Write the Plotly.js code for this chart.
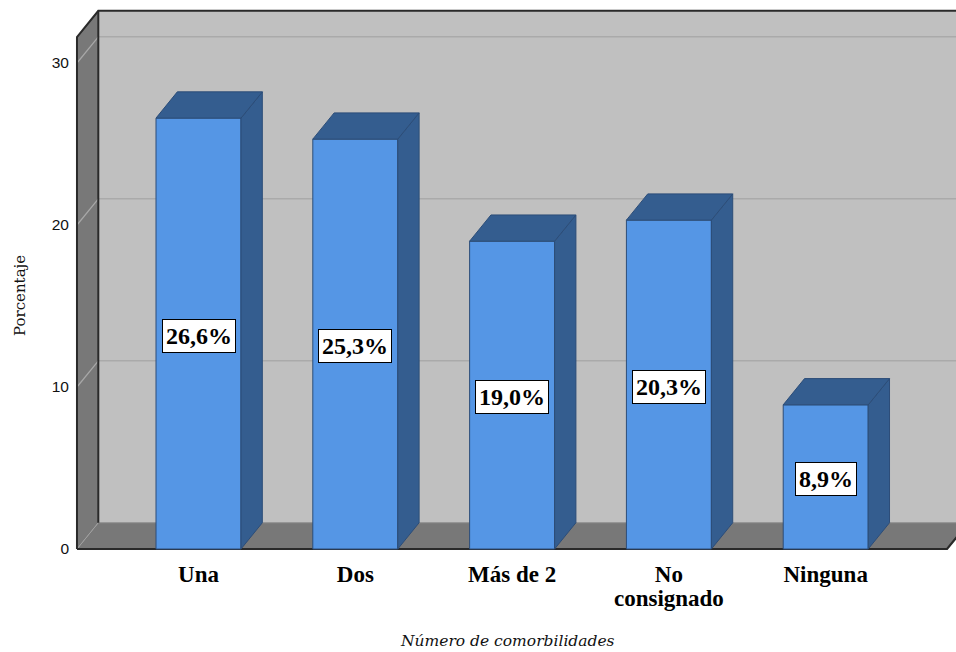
<!DOCTYPE html>
<html>
<head>
<meta charset="utf-8">
<script src="https://cdn.plot.ly/plotly-3.0.1.min.js"></script>
<style>
  html, body { margin: 0; padding: 0; background: #ffffff; }
  #chart { width: 956px; height: 652px; }
</style>
</head>
<body>
<div id="chart"></div>
<script>
// Comorbidity counts, percentage of patients
const categories = ['Una', 'Dos', 'Más de 2', 'No<br>consignado', 'Ninguna'];
const percentages = [26.6, 25.3, 19.0, 20.3, 8.9];
const yTickValues = [0, 10, 20, 30];
const yTickLabels = ['0', '10', '20', '30'];
const xTitle = 'Número de comorbilidades';
const yTitle = 'Porcentaje';

// Pseudo-3D geometry (axis units)
const BAR_W = 0.542;      // front face width
const DEPTH_X = 0.136;    // receding offset, horizontal
const DEPTH_Y = 1.62;     // receding offset, vertical
const WALL_LEFT = -0.775; // front edge of the side wall
const FLOOR_RIGHT = 4.774;
const WALL_TOP = 31.6;
const FAR = 6;

const xs = categories.map((_, i) => i);

// colours
const FRONT = '#5596e5';
const SHADE = '#345d8f';
const EDGE = '#2c4d78';
const BACK_WALL = '#c0c0c0';
const SIDE_WALL = '#787878';
const FLOOR = '#787878';
const DARK = '#2a2a2a';

// side and top faces of every bar, built from the values
const sideX = [], sideY = [], topX = [], topY = [];
xs.forEach((x, i) => {
  const v = percentages[i];
  const l = x - BAR_W / 2, r = x + BAR_W / 2;
  sideX.push(r, r + DEPTH_X, r + DEPTH_X, r, r, null);
  sideY.push(0, DEPTH_Y, v + DEPTH_Y, v, 0, null);
  topX.push(l, l + DEPTH_X, r + DEPTH_X, r, l, null);
  topY.push(v, v + DEPTH_Y, v + DEPTH_Y, v, v, null);
});

const traces = [
  {
    type: 'bar', x: xs, y: percentages, width: BAR_W,
    marker: { color: FRONT, line: { color: EDGE, width: 1 } },
    hoverinfo: 'skip', showlegend: false
  },
  {
    type: 'scatter', mode: 'lines', x: sideX, y: sideY, fill: 'toself',
    fillcolor: SHADE, line: { color: EDGE, width: 1 },
    hoverinfo: 'skip', showlegend: false
  },
  {
    type: 'scatter', mode: 'lines', x: topX, y: topY, fill: 'toself',
    fillcolor: SHADE, line: { color: EDGE, width: 1 },
    hoverinfo: 'skip', showlegend: false
  }
];

function poly(pts) {
  return 'M' + pts.map(p => p[0] + ',' + p[1]).join(' L') + ' Z';
}
function seg(a, b) {
  return 'M' + a[0] + ',' + a[1] + ' L' + b[0] + ',' + b[1];
}

const shapes = [];
const bx = WALL_LEFT + DEPTH_X;
// back wall
shapes.push({ type: 'path', xref: 'x', yref: 'y', layer: 'below',
  path: poly([[bx, DEPTH_Y], [FAR, DEPTH_Y], [FAR, WALL_TOP + DEPTH_Y], [bx, WALL_TOP + DEPTH_Y]]),
  fillcolor: BACK_WALL, line: { width: 0 } });
// side wall
shapes.push({ type: 'path', xref: 'x', yref: 'y', layer: 'below',
  path: poly([[WALL_LEFT, 0], [bx, DEPTH_Y], [bx, WALL_TOP + DEPTH_Y], [WALL_LEFT, WALL_TOP]]),
  fillcolor: SIDE_WALL, line: { width: 0 } });
// floor
shapes.push({ type: 'path', xref: 'x', yref: 'y', layer: 'below',
  path: poly([[WALL_LEFT, 0], [FLOOR_RIGHT, 0], [FLOOR_RIGHT + DEPTH_X, DEPTH_Y], [bx, DEPTH_Y]]),
  fillcolor: FLOOR, line: { width: 0 } });
// gridlines on the back and side walls
yTickValues.filter(t => t > 0).forEach(t => {
  shapes.push({ type: 'path', xref: 'x', yref: 'y', layer: 'below',
    path: seg([bx, t + DEPTH_Y], [FAR, t + DEPTH_Y]), line: { color: '#aaaaaa', width: 1.5 } });
  shapes.push({ type: 'path', xref: 'x', yref: 'y', layer: 'below',
    path: seg([WALL_LEFT, t], [bx, t + DEPTH_Y]), line: { color: '#a8a8a8', width: 1.2 } });
});
// corner between side wall and floor
shapes.push({ type: 'path', xref: 'x', yref: 'y', layer: 'below',
  path: seg([WALL_LEFT, 0], [bx, DEPTH_Y]), line: { color: '#a0a0a0', width: 1 } });
// floor back edge
shapes.push({ type: 'path', xref: 'x', yref: 'y', layer: 'below',
  path: seg([bx, DEPTH_Y], [FAR, DEPTH_Y]), line: { color: '#8a8a8a', width: 1 } });
// dark outlines
shapes.push({ type: 'path', xref: 'x', yref: 'y', layer: 'below',
  path: seg([bx, DEPTH_Y], [bx, WALL_TOP + DEPTH_Y]), line: { color: DARK, width: 2 } });
shapes.push({ type: 'path', xref: 'x', yref: 'y', layer: 'below',
  path: 'M' + WALL_LEFT + ',0 L' + WALL_LEFT + ',' + WALL_TOP + ' L' + bx + ',' + (WALL_TOP + DEPTH_Y) +
        ' L' + FAR + ',' + (WALL_TOP + DEPTH_Y),
  line: { color: DARK, width: 2 } });
shapes.push({ type: 'path', xref: 'x', yref: 'y', layer: 'below',
  path: 'M' + WALL_LEFT + ',0 L' + FLOOR_RIGHT + ',0 L' + (FLOOR_RIGHT + DEPTH_X) + ',' + DEPTH_Y,
  line: { color: DARK, width: 2.2 } });

// value labels, centred on each bar's front face
const annotations = xs.map((x, i) => ({
  x: x, y: percentages[i] / 2, xref: 'x', yref: 'y',
  text: percentages[i].toFixed(1).replace('.', ',') + '%',
  showarrow: false, yshift: -2,
  font: { family: 'Liberation Serif, Times New Roman, serif', size: 24, color: '#000', weight: 'bold' },
  bgcolor: '#ffffff', bordercolor: '#000000', borderwidth: 1, borderpad: 3
}));

// axis titles
annotations.push({
  xref: 'paper', yref: 'paper', x: (507 - 70) / 886, y: (652 - 98 - 641) / 548,
  xanchor: 'center', yanchor: 'middle', showarrow: false, text: xTitle,
  font: { family: 'DejaVu Serif, serif', size: 15.5, color: '#111', style: 'italic' }
});
annotations.push({
  xref: 'paper', yref: 'paper', x: (20 - 70) / 886, y: (554 - 296) / 548,
  xanchor: 'center', yanchor: 'middle', showarrow: false, text: yTitle, textangle: -90,
  font: { family: 'DejaVu Serif, serif', size: 15, color: '#111' }
});

const layout = {
  width: 956, height: 652,
  margin: { l: 70, r: 0, t: 6, b: 98 },
  paper_bgcolor: '#ffffff', plot_bgcolor: '#ffffff',
  showlegend: false,
  xaxis: {
    range: [(70 - 198.5) / 156.8, (956 - 198.5) / 156.8],
    tickvals: xs, ticktext: categories, ticks: '',
    showgrid: false, zeroline: false, showline: false,
    tickfont: { family: 'Liberation Serif, Times New Roman, serif', size: 23, color: '#000', weight: 'bold' },
    ticklabelstandoff: 4
  },
  yaxis: {
    range: [(549 - 554) / 16.2, (549 - 6) / 16.2],
    tickvals: yTickValues, ticktext: yTickLabels, ticks: '',
    showgrid: false, zeroline: false, showline: false,
    tickfont: { family: 'Liberation Sans, Arial, sans-serif', size: 15.5, color: '#111' }
  },
  shapes: shapes,
  annotations: annotations
};

Plotly.newPlot('chart', traces, layout, { staticPlot: true, displayModeBar: false }).then(gd => {
  // tighter leading for the two-line category label
  gd.querySelectorAll('.xtick text tspan.line').forEach(t => {
    if (t.getAttribute('dy') && t.getAttribute('dy') !== '0em') t.setAttribute('dy', '1.05em');
  });
});
</script>
</body>
</html>
